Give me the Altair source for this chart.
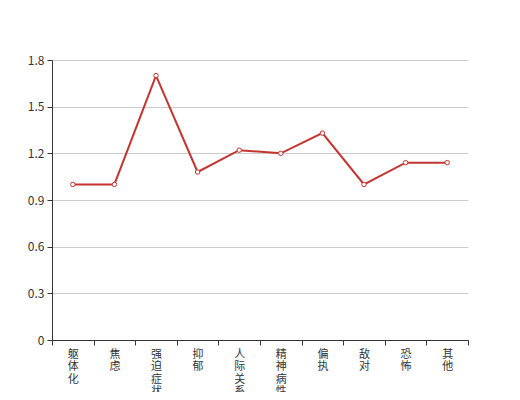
import altair as alt
import pandas as pd

categories = ["躯体化", "焦虑", "强迫症状", "抑郁", "人际关系敏感", "精神病性", "偏执", "敌对", "恐怖", "其他"]
values = [1.0, 1.0, 1.7, 1.08, 1.22, 1.2, 1.33, 1.0, 1.14, 1.14]
y_ticks = [0, 0.3, 0.6, 0.9, 1.2, 1.5, 1.8]

df = pd.DataFrame({"cat": categories, "val": values})

FONT = "Noto Sans CJK SC"
RED = "#c23531"

x = alt.X("cat:N", sort=categories, title=None,
          scale=alt.Scale(type="band", paddingInner=0, paddingOuter=0),
          axis=alt.Axis(labelAngle=0, labelExpr="split(datum.label, '')",
                        labelLineHeight=12.5, labelFontSize=11, labelFont=FONT,
                        labelColor="#333", tickBand="extent", tickSize=5,
                        tickColor="#333", domainColor="#333", labelPadding=3,
                        grid=False, labelOverlap=False, labelBound=False))
y = alt.Y("val:Q", title=None,
          scale=alt.Scale(domain=[0, 1.8], nice=False, zero=True),
          axis=alt.Axis(values=y_ticks, format=".1~f", labelFontSize=12,
                        labelFont=FONT, labelColor="#333", tickSize=5,
                        tickColor="#333", domainColor="#333", labelPadding=3,
                        gridColor="#ccc", gridWidth=1))

line = alt.Chart(df).mark_line(color=RED, strokeWidth=2).encode(x=x, y=y)
pts = alt.Chart(df).mark_point(shape="circle", filled=True, fill="white",
                                stroke=RED, strokeWidth=1, size=20,
                                opacity=1).encode(x=x, y=y)

chart = alt.layer(line, pts).properties(
    width=416, height=280,
    autosize=alt.AutoSizeParams(type="none"),
    padding={"left": 44, "top": 52, "right": 44, "bottom": 52},
).configure_view(stroke=None)

chart.save("out.html", embed_options={"renderer": "svg", "actions": False})
